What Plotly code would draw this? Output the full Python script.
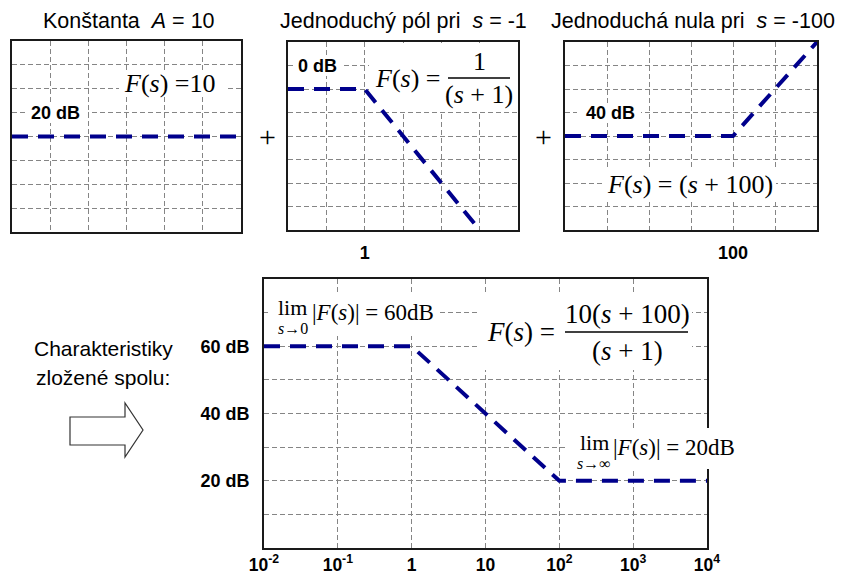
import plotly.graph_objects as go

W, H = 841, 572
SANS = "Arial, Liberation Sans, sans-serif"
SERIF = "Times New Roman, Liberation Serif, serif"
BLUE = "#00008C"

# Asymptotic Bode magnitude curves: corner frequencies (rad/s) and levels (dB)
const_w = [1e-2, 1e4]
const_db = [20, 20]
pole_w = [1e-2, 1, 1e3]
pole_db = [0, 0, -60]
zero_w = [1e-2, 1e2, 1e4]
zero_db = [40, 40, 80]
total_w = [1e-2, 1, 1e2, 1e4]
total_db = [60, 60, 20, 20]

# Axis ticks
decades = [1e-2, 1e-1, 1, 10, 1e2, 1e3, 1e4]
decade_labels = ["10<sup>-2</sup>", "10<sup>-1</sup>", "1", "10",
                 "10<sup>2</sup>", "10<sup>3</sup>", "10<sup>4</sup>"]
pole_labels = ["", "", "1", "", "", "", ""]
zero_labels = ["", "", "", "", "100", "", ""]
db_levels = [10, 20, 30, 40, 50, 60, 70]
db_labels = ["", "20 dB", "", "40 dB", "", "60 dB", ""]

# Subplot frames in pixels: (left, right, top, bottom)
frames = {
    1: (12, 241, 41, 232),
    2: (288, 518, 42, 230),
    3: (565, 817, 42, 230),
    4: (264, 707, 279, 548),
}
xrange_log = [-2, 4]
yranges = {1: [-20, 60], 2: [-60, 20], 3: [0, 80], 4: [0, 80]}


def px(x):
    return x / W


def py(y):
    return 1 - y / H


fig = go.Figure()

curves = [(1, const_w, const_db), (2, pole_w, pole_db),
          (3, zero_w, zero_db), (4, total_w, total_db)]
for k, xs, ys in curves:
    sfx = "" if k == 1 else str(k)
    fig.add_trace(go.Scatter(
        x=xs, y=ys, mode="lines", xaxis="x" + sfx, yaxis="y" + sfx,
        line=dict(color=BLUE, width=4, dash="16px,10px"),
        showlegend=False, hoverinfo="skip"))

grid = dict(showgrid=True, gridcolor="#858585", gridwidth=1.3, griddash="5px,3px",
            showline=True, linecolor="#1a1a1a", linewidth=1.6, mirror=True,
            zeroline=False, ticks="", automargin=False)
bold_tick = dict(family=SANS, size=18, color="black", weight="bold")

layout_axes = {}
for k, (l, r, t, b) in frames.items():
    sfx = "" if k == 1 else str(k)
    xa = dict(grid, type="log", range=xrange_log, domain=[px(l), px(r)],
              anchor="y" + sfx, tickvals=decades)
    ya = dict(grid, range=yranges[k], domain=[py(b), py(t)], anchor="x" + sfx)
    lo, hi = yranges[k]
    ya["tickvals"] = list(range(lo + 10, hi, 10))
    if k == 4:
        xa.update(ticktext=decade_labels, ticklabelstandoff=0,
                  tickfont=dict(bold_tick, size=17.5))
        ya.update(tickvals=db_levels, ticktext=db_labels, ticklabelstandoff=9,
                  tickfont=bold_tick)
    elif k in (2, 3):
        xa.update(ticktext=pole_labels if k == 2 else zero_labels,
                  ticklabelstandoff=6, tickfont=bold_tick)
        ya.update(showticklabels=False)
    else:
        xa.update(showticklabels=False)
        ya.update(showticklabels=False)
    layout_axes["xaxis" + sfx] = xa
    layout_axes["yaxis" + sfx] = ya

annotations = []
shapes = []


def note(text, x, y, size, family=SERIF, xanchor="center", yanchor="middle"):
    annotations.append(dict(
        text=text, x=px(x), y=py(y), xref="paper", yref="paper",
        showarrow=False, xanchor=xanchor, yanchor=yanchor,
        font=dict(family=family, size=size, color="black")))


def blank(k, x0, x1, y0, y1):
    """White backing that hides the grid behind a label, kept under the curve."""
    sfx = "" if k == 1 else str(k)
    l, r, t, b = frames[k]
    lo, hi = yranges[k]
    span = xrange_log[1] - xrange_log[0]

    def xd(v):  # pixel -> frequency value on the log axis
        return 10 ** (xrange_log[0] + (v - l) / (r - l) * span)

    def yd(v):  # pixel -> dB
        return lo + (b - v) / (b - t) * (hi - lo)

    shapes.append(dict(
        type="rect", xref="x" + sfx, yref="y" + sfx,
        x0=xd(x0), x1=xd(x1), y0=yd(y1), y1=yd(y0),
        fillcolor="white", line=dict(width=0), layer="between"))


def bar(x0, x1, y):
    shapes.append(dict(type="line", xref="paper", yref="paper",
                       x0=px(x0), x1=px(x1), y0=py(y), y1=py(y),
                       line=dict(color="black", width=1.3), layer="above"))


# Panel titles
note("Konštanta\u00a0 <i>A</i> = 10", 129, 21, 21.5, SANS)
note("Jednoduchý pól pri\u00a0 <i>s</i> = -1", 403, 21, 21.5, SANS)
note("Jednoduchá nula pri\u00a0 <i>s</i> = -100", 693, 21, 21.5, SANS)

# Plus signs between panels
note("+", 267, 137, 30)
note("+", 543, 137, 30)

# Panel 1: constant
blank(1, 27, 88, 103, 123)
note("<b>20 dB</b>", 55, 113, 18, SANS)
blank(1, 119, 228, 70, 97)
note("<i>F</i>(<i>s</i>) =10", 170, 83, 26)

# Panel 2: simple pole
blank(2, 294, 341, 55, 76)
note("<b>0 dB</b>", 317, 66, 18, SANS)
blank(2, 369, 517, 43, 111)
note("<i>F</i>(<i>s</i>) =", 408, 78, 26)
note("1", 479, 61, 26)
note("(<i>s</i> + 1)", 479, 95, 26)
bar(448, 510, 78)

# Panel 3: simple zero
blank(3, 577, 641, 103, 123)
note("<b>40 dB</b>", 610, 113, 18, SANS)
blank(3, 605, 776, 168, 199)
note("<i>F</i>(<i>s</i>) = (<i>s</i> + 100)", 690, 184, 26)

# Panel 4: composite response
blank(4, 268, 438, 295, 336)
note("lim", 292, 307, 22)
note("<i>s</i>\u2192<span>0</span>", 293, 328, 16)
note("|<i>F</i>(<i>s</i>)| = 60dB", 310, 312, 23, xanchor="left")

blank(4, 480, 692, 295, 370)
note("<i>F</i>(<i>s</i>) =", 521, 332, 27)
note("10(<i>s</i> + 100)", 627, 314, 27)
note("(<i>s</i> + 1)", 627, 351, 27)
bar(565, 688, 332)

shapes.append(dict(type="rect", xref="paper", yref="paper",
                   x0=px(568), x1=px(745), y0=py(469), y1=py(428),
                   fillcolor="white", line=dict(width=0), layer="above"))
note("lim", 594, 442, 22)
note("<i>s</i>\u2192\u221e", 594, 463, 16)
note("|<i>F</i>(<i>s</i>)| = 20dB", 611, 447, 23, xanchor="left")

# Left caption and hollow arrow
note("Charakteristiky", 103, 348, 21, SANS)
note("zložené spolu:", 103, 377, 21, SANS)
arrow_pts = [(70, 417), (125, 417), (125, 403), (143, 430),
             (125, 457), (125, 445), (70, 445)]
path = "M " + " L ".join(f"{px(x):.5f},{py(y):.5f}" for x, y in arrow_pts) + " Z"
shapes.append(dict(type="path", xref="paper", yref="paper", path=path,
                   fillcolor="white", line=dict(color="#333333", width=1.2),
                   layer="above"))

fig.update_layout(
    width=W, height=H, margin=dict(l=0, r=0, t=0, b=0),
    paper_bgcolor="white", plot_bgcolor="white",
    annotations=annotations, shapes=shapes, **layout_axes)

fig.write_html("out.html")
